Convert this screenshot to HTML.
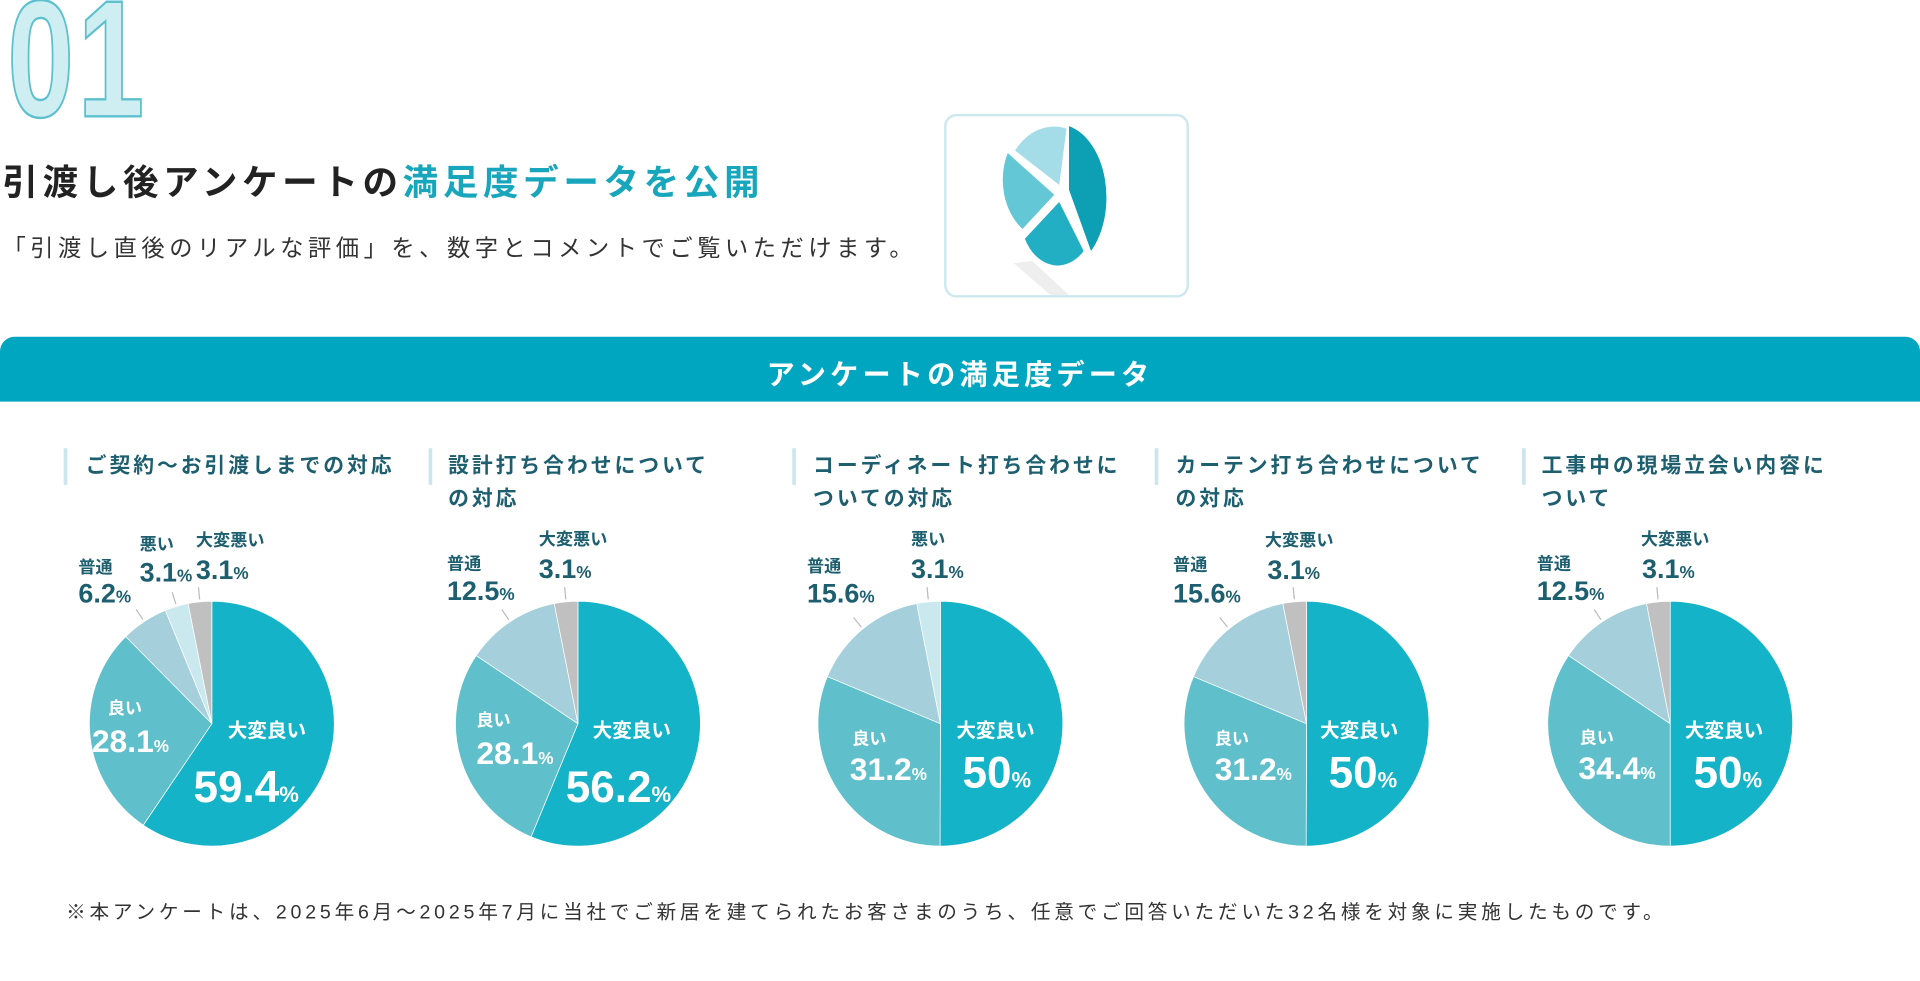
<!DOCTYPE html>
<html><head><meta charset="utf-8">
<style>
html,body{margin:0;padding:0;background:#fff;width:1920px;height:981px;overflow:hidden}
#wrap{position:absolute;left:0;top:0;width:1568px;height:801px;transform:scale(1.22449);transform-origin:0 0;font-family:"Liberation Sans","Noto Sans CJK JP",sans-serif}
.a{position:absolute;white-space:nowrap}
.ct{font-size:17px;font-weight:bold;color:#1d5f6f;line-height:27px;letter-spacing:2.4px}
.bar{position:absolute;width:3px;height:30px;background:#cde6ee}
.lb{font-size:14px;font-weight:bold;color:#1d5f6f}
.num{font-family:"Liberation Sans Narrow","Liberation Sans","Noto Sans CJK JP",sans-serif;font-weight:bold;color:#1d5f6f;font-size:22px}
.num small{font-size:14px}
.w{color:#fff}
</style></head><body>
<div id="wrap">
<div class="a" style="left:6px;top:-30px;font-family:'Liberation Sans',sans-serif;font-weight:bold;font-size:136px;color:#cfeef2;-webkit-text-stroke:2px #5cc0cf;letter-spacing:4px;transform:scaleX(0.72);transform-origin:0 0">01</div>
<div class="a" style="left:2px;top:126px;font-size:29px;font-weight:bold;color:#222;letter-spacing:3.8px">引渡し後アンケートの<span style="color:#18a6bc">満足度データを公開</span></div>
<div class="a" style="left:2px;top:188px;font-size:19px;color:#333;letter-spacing:3.7px">「引渡し直後のリアルな評価」を、数字とコメントでご覧いただけます。</div>
<div class="a" style="left:771px;top:93px;width:196px;height:146px;border:2px solid #cde8ee;border-radius:10px">
<svg width="196" height="146" viewBox="0 0 196 146">
<polygon points="55,120 70,118 100,146 85,146" fill="#eee"/>
<path d="M100,8 A40,60 0 0 1 118,110 L100,60 Z" fill="#0d9fb4"/>
<path d="M98,10 L92,56 L56,28 A40,50 0 0 1 98,10Z" fill="#a4dde7"/>
<path d="M50,30 L88,64 L62,92 A40,50 0 0 1 50,30Z" fill="#64c7d6"/>
<path d="M92,70 L112,110 A30,40 0 0 1 64,100Z" fill="#22aec3"/>
</svg></div>
<div class="a" style="left:0;top:275px;width:1568px;height:53px;background:#00a5bf;border-radius:12px 12px 0 0"></div>
<div class="a" style="left:0;top:287px;width:1568px;text-align:center;color:#fff;font-size:23px;font-weight:bold;letter-spacing:3.4px">アンケートの満足度データ</div>

<div class="bar" style="left:52px;top:366px"></div>
<div class="a ct" style="left:70px;top:367px">ご契約～お引渡しまでの対応</div>
<div class="bar" style="left:350px;top:366px"></div>
<div class="a ct" style="left:366px;top:367px">設計打ち合わせについて<br>の対応</div>
<div class="bar" style="left:647px;top:366px"></div>
<div class="a ct" style="left:664px;top:367px">コーディネート打ち合わせに<br>ついての対応</div>
<div class="bar" style="left:943px;top:366px"></div>
<div class="a ct" style="left:960px;top:367px">カーテン打ち合わせについて<br>の対応</div>
<div class="bar" style="left:1243px;top:366px"></div>
<div class="a ct" style="left:1259px;top:367px">工事中の現場立会い内容に<br>ついて</div>

<svg id="pies" class="a" style="left:0;top:0" width="1568" height="801"></svg>

<div class="a lb" style="left:64px;top:453px">普通</div><div class="a num" style="left:64px;top:472px">6.2<small>%</small></div>
<div class="a lb" style="left:114px;top:434px">悪い</div><div class="a num" style="left:114px;top:455px">3.1<small>%</small></div>
<div class="a lb" style="left:160px;top:431px">大変悪い</div><div class="a num" style="left:160px;top:453px">3.1<small>%</small></div>
<div class="a lb w" style="left:88px;top:568px">良い</div><div class="a num w" style="left:75px;top:590px;font-size:26px">28.1<small>%</small></div>
<div class="a lb w" style="left:186px;top:583px;font-size:16px">大変良い</div><div class="a num w" style="left:158px;top:622px;font-size:36px">59.4<small style="font-size:18px">%</small></div>

<div class="a lb" style="left:365px;top:450px">普通</div><div class="a num" style="left:365px;top:470px">12.5<small>%</small></div>
<div class="a lb" style="left:440px;top:430px">大変悪い</div><div class="a num" style="left:440px;top:452px">3.1<small>%</small></div>
<div class="a lb w" style="left:389px;top:578px">良い</div><div class="a num w" style="left:389px;top:600px;font-size:26px">28.1<small>%</small></div>
<div class="a lb w" style="left:484px;top:583px;font-size:16px">大変良い</div><div class="a num w" style="left:462px;top:622px;font-size:36px">56.2<small style="font-size:18px">%</small></div>

<div class="a lb" style="left:659px;top:452px">普通</div><div class="a num" style="left:659px;top:472px">15.6<small>%</small></div>
<div class="a lb" style="left:744px;top:430px">悪い</div><div class="a num" style="left:744px;top:452px">3.1<small>%</small></div>
<div class="a lb w" style="left:696px;top:593px">良い</div><div class="a num w" style="left:694px;top:613px;font-size:26px">31.2<small>%</small></div>
<div class="a lb w" style="left:781px;top:583px;font-size:16px">大変良い</div><div class="a num w" style="left:786px;top:610px;font-size:36px">50<small style="font-size:18px">%</small></div>

<div class="a lb" style="left:958px;top:451px">普通</div><div class="a num" style="left:958px;top:472px">15.6<small>%</small></div>
<div class="a lb" style="left:1033px;top:431px">大変悪い</div><div class="a num" style="left:1035px;top:453px">3.1<small>%</small></div>
<div class="a lb w" style="left:992px;top:593px">良い</div><div class="a num w" style="left:992px;top:613px;font-size:26px">31.2<small>%</small></div>
<div class="a lb w" style="left:1078px;top:583px;font-size:16px">大変良い</div><div class="a num w" style="left:1085px;top:610px;font-size:36px">50<small style="font-size:18px">%</small></div>

<div class="a lb" style="left:1255px;top:450px">普通</div><div class="a num" style="left:1255px;top:470px">12.5<small>%</small></div>
<div class="a lb" style="left:1340px;top:430px">大変悪い</div><div class="a num" style="left:1341px;top:452px">3.1<small>%</small></div>
<div class="a lb w" style="left:1290px;top:592px">良い</div><div class="a num w" style="left:1289px;top:612px;font-size:26px">34.4<small>%</small></div>
<div class="a lb w" style="left:1376px;top:583px;font-size:16px">大変良い</div><div class="a num w" style="left:1383px;top:610px;font-size:36px">50<small style="font-size:18px">%</small></div>

<div class="a" style="left:54px;top:731px;font-size:16px;color:#333;letter-spacing:3.1px">※本アンケートは、2025年6月～2025年7月に当社でご新居を建てられたお客さまのうち、任意でご回答いただいた32名様を対象に実施したものです。</div>
</div>
<script>
const categories=["大変良い","良い","普通","悪い","大変悪い"];
const pie1=[59.4,28.1,6.2,3.1,3.1];
const pie2=[56.2,28.1,12.5,0,3.1];
const pie3=[50,31.2,15.6,3.1,0];
const pie4=[50,31.2,15.6,0,3.1];
const pie5=[50,34.4,12.5,0,3.1];
const colors=["#14b3c8","#5fbfca","#a4cfdb","#c9e9ee","#c0c0c0"];
const centersX=[173,472,768,1067,1364];
const cy=591,R=100;
const svg=document.getElementById('pies');
const NS="http://www.w3.org/2000/svg";
[pie1,pie2,pie3,pie4,pie5].forEach((vals,pi)=>{
  const cx=centersX[pi];
  const tot=vals.reduce((a,b)=>a+b,0);
  let a0=0;
  vals.forEach((v,i)=>{
    if(v<=0)return;
    const a1=a0+v/tot*2*Math.PI;
    const x0=cx+R*Math.sin(a0),y0=cy-R*Math.cos(a0);
    const x1=cx+R*Math.sin(a1),y1=cy-R*Math.cos(a1);
    const p=document.createElementNS(NS,'path');
    p.setAttribute('d',`M${cx},${cy}L${x0},${y0}A${R},${R} 0 ${a1-a0>Math.PI?1:0} 1 ${x1},${y1}Z`);
    p.setAttribute('fill',colors[i]);
    p.setAttribute('stroke','#fff');
    p.setAttribute('stroke-width','0.6');
    
    
    svg.appendChild(p);
    if(i>=2){
      const am=(a0+a1)/2;
      const l=document.createElementNS(NS,'line');
      l.setAttribute('x1',cx+(R+2)*Math.sin(am));l.setAttribute('y1',cy-(R+2)*Math.cos(am));
      l.setAttribute('x2',cx+(R+12)*Math.sin(am));l.setAttribute('y2',cy-(R+12)*Math.cos(am));
      l.setAttribute('stroke','#bbb');
      
      
      svg.appendChild(l);
    }
    a0=a1;
  });
});
</script>
</body></html>
